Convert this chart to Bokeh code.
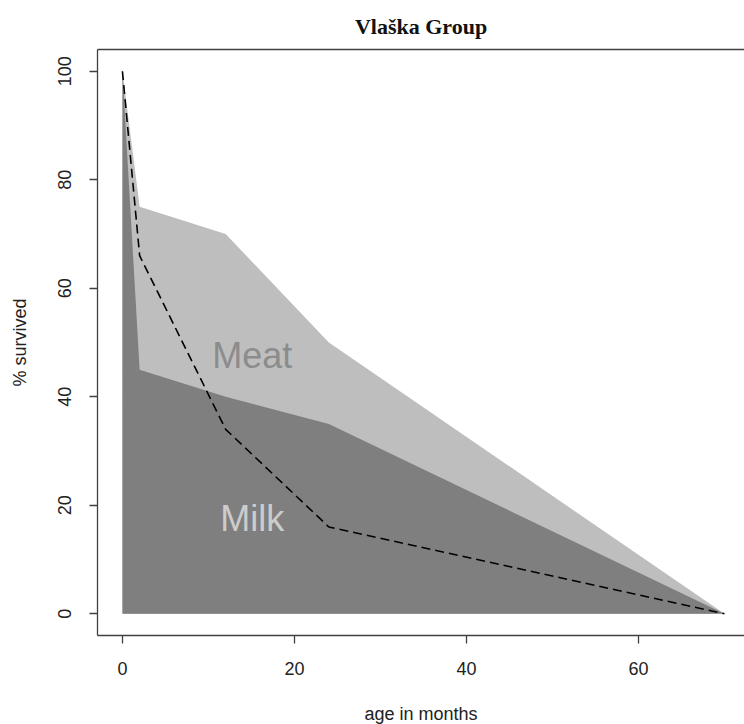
from bokeh.plotting import figure
from bokeh.models import LinearAxis, Range1d, FixedTicker, Label
from bokeh.embed import file_html
from bokeh.resources import INLINE

# Data
months = [0, 2, 12, 24, 70]
meat_survival = [100, 75, 70, 50, 0]
milk_survival = [100, 45, 40, 35, 0]
observed_survival = [100, 66, 34, 16, 0]
x_ticks = [0, 20, 40, 60]
y_ticks = [0, 20, 40, 60, 80, 100]

p = figure(frame_width=647, frame_height=586,
           x_range=Range1d(-2.9, 72.33), y_range=Range1d(-4, 104),
           output_backend="svg", toolbar_location=None,
           x_axis_location=None, y_axis_location=None,
           min_border_left=97, min_border_right=0,
           min_border_top=49, min_border_bottom=89)
p.grid.visible = False
p.outline_line_color = None
p.background_fill_color = "white"
p.border_fill_color = "white"

# polygons
p.patch(months + [months[-1], months[0]], meat_survival + [0, 0],
        fill_color="#bebebe", line_color=None)
p.patch(months + [months[-1], months[0]], milk_survival + [0, 0],
        fill_color="#7f7f7f", line_color=None)
p.line(months, observed_survival, line_color="black", line_width=1.6,
       line_dash="9 5")

p.add_layout(Label(x=15.1, y=47.6, text="Meat", text_align="center",
                   text_baseline="alphabetic", text_font="Liberation Sans",
                   text_font_size="36px", text_color="#8c8c8c"))
p.add_layout(Label(x=15.1, y=17.5, text="Milk", text_align="center",
                   text_baseline="alphabetic", text_font="Liberation Sans",
                   text_font_size="36px", text_color="#cccccc"))

axis_color = "#404040"

def style(ax):
    ax.axis_line_color = axis_color
    ax.axis_line_width = 1.3
    ax.major_tick_line_color = axis_color
    ax.major_tick_line_width = 1.3
    ax.major_tick_out = 8
    ax.major_tick_in = 0
    ax.minor_tick_out = 0
    ax.minor_tick_in = 0
    ax.major_label_text_font = "Liberation Sans"
    ax.major_label_text_font_size = "18px"
    ax.major_label_text_color = "#222222"
    ax.axis_label_text_font = "Liberation Sans"
    ax.axis_label_text_font_size = "18px"
    ax.axis_label_text_font_style = "normal"
    ax.axis_label_text_color = "#222222"

xaxis = LinearAxis(ticker=FixedTicker(ticks=x_ticks), axis_label="age in months")
style(xaxis)
xaxis.major_label_standoff = 18
xaxis.axis_label_standoff = 26
p.add_layout(xaxis, "below")

yaxis = LinearAxis(ticker=FixedTicker(ticks=y_ticks), axis_label="% survived")
style(yaxis)
yaxis.major_label_orientation = "vertical"
yaxis.major_label_standoff = 18
yaxis.axis_label_standoff = 26
p.add_layout(yaxis, "left")

top = LinearAxis(ticker=FixedTicker(ticks=[]))
style(top)
top.major_tick_out = 0
top.major_label_standoff = 0
top.axis_label_standoff = 0
p.add_layout(top, "above")

p.title.text = "Vlaška Group"
p.title.text_font = "Liberation Serif"
p.title.text_font_size = "22px"
p.title.text_font_style = "bold"
p.title.text_color = "#111111"
p.title.align = "center"
p.title.standoff = 22

open("out.html", "w").write(file_html(p, INLINE))
